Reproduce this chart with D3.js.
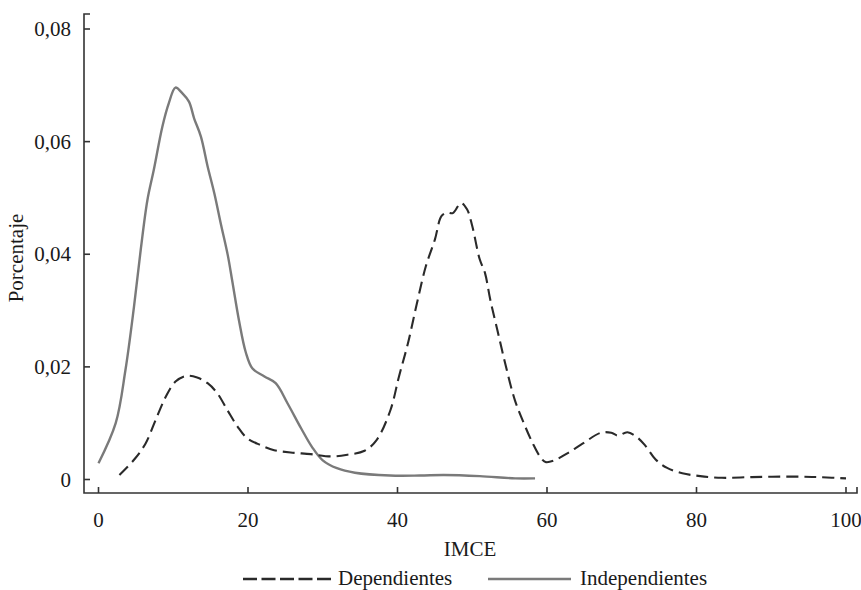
<!DOCTYPE html>
<html>
<head>
<meta charset="utf-8">
<script src="https://cdn.jsdelivr.net/npm/d3@7"></script>
<style>
  html, body { margin: 0; padding: 0; background: #fff; }
  svg { display: block; }
  text { font-family: "Liberation Serif", "Times New Roman", serif; fill: #1a1a1a; }
</style>
</head>
<body>
<svg id="chart" width="861" height="590"></svg>
<script>
// Density of IMCE scores, by group
const dependientesX = [2.8, 4.75, 6.3, 7.65, 9.0, 10.3, 11.7, 13.2, 14.6, 15.9, 17.25, 18.6, 19.9, 21.7, 23.5, 25.7, 28.4, 31.1, 33.3, 35.6, 37.2, 39.05, 40.2, 41.4, 42.6, 43.8, 45.0, 45.9, 46.7, 47.4, 48.5, 49.3, 50.0, 51.0, 51.7, 52.4, 53.35, 54.5, 55.7, 56.9, 58.1, 59.1, 59.8, 61.0, 62.65, 64.8, 67.2, 68.6, 69.5, 70.75, 71.95, 73.1, 74.5, 76.0, 78.1, 80.5, 83.4, 86.7, 90.1, 93.9, 96.7, 100];
const dependientesY = [0.0008, 0.0035, 0.0064, 0.0106, 0.0147, 0.0174, 0.0184, 0.0181, 0.0171, 0.0153, 0.0123, 0.0094, 0.0073, 0.0061, 0.0052, 0.0048, 0.0045, 0.0041, 0.0044, 0.0051, 0.0070, 0.0123, 0.0183, 0.0242, 0.0313, 0.0379, 0.0426, 0.0468, 0.0474, 0.0473, 0.0491, 0.0480, 0.0450, 0.0391, 0.0367, 0.0320, 0.0266, 0.0201, 0.0141, 0.0100, 0.0064, 0.0040, 0.0031, 0.0034, 0.0046, 0.0064, 0.0083, 0.0083, 0.0078, 0.0084, 0.0076, 0.0061, 0.0036, 0.0021, 0.0011, 0.0006, 0.0003, 0.0004, 0.0005, 0.0005, 0.0004, 0.0002];

const independientesX = [0, 2.3, 3.6, 4.75, 5.65, 6.54, 7.4, 8.55, 9.4, 10.3, 11.2, 12.1, 12.8, 13.7, 14.6, 15.5, 16.4, 17.3, 17.9, 18.8, 19.7, 20.6, 22.2, 23.7, 25.3, 27.1, 28.55, 30.0, 31.9, 34.3, 39.0, 43.0, 46.2, 51.0, 55.75, 58.4];
const independientesY = [0.0029, 0.0100, 0.0194, 0.0307, 0.0408, 0.0496, 0.0550, 0.0627, 0.0668, 0.0696, 0.0686, 0.0671, 0.0641, 0.0609, 0.0556, 0.0508, 0.0452, 0.0398, 0.0352, 0.0282, 0.0226, 0.0197, 0.0183, 0.0171, 0.0135, 0.0091, 0.0058, 0.0034, 0.0020, 0.0012, 0.0007, 0.0007, 0.0008, 0.0006, 0.0002, 0.0002];

const xTicks = [0, 20, 40, 60, 80, 100];
const yTicks = [0, 0.02, 0.04, 0.06, 0.08];
const yTickLabels = ["0", "0,02", "0,04", "0,06", "0,08"];
const seriesNames = ["Dependientes", "Independientes"];

const svg = d3.select("#chart");
const axisColor = "#333";

const x = d3.scaleLinear().domain([0, 100]).range([98.5, 846]);
const y = d3.scaleLinear().domain([0, 0.08]).range([479.5, 29]);

const axisLeftX = 84, axisTopY = 14, axisBottomY = 493, axisRightX = 857;

// Frame lines
const frame = svg.append("g").attr("stroke", axisColor).attr("stroke-width", 1.6).attr("fill", "none");
frame.append("path").attr("d", `M${axisLeftX + 6},${axisTopY}H${axisLeftX}V${axisBottomY}H${axisRightX}V${axisBottomY - 6}`);

// Y axis ticks (pointing inward) and labels
const yAxis = svg.append("g");
yAxis.selectAll("line").data(yTicks).join("line")
  .attr("x1", axisLeftX).attr("x2", axisLeftX + 6)
  .attr("y1", d => y(d)).attr("y2", d => y(d))
  .attr("stroke", axisColor).attr("stroke-width", 1.6);
yAxis.selectAll("text").data(yTicks).join("text")
  .attr("x", 71).attr("y", d => y(d) + 7)
  .attr("text-anchor", "end").attr("font-size", 21)
  .text((d, i) => yTickLabels[i]);

// X axis ticks and labels
const xAxis = svg.append("g");
xAxis.selectAll("line").data(xTicks).join("line")
  .attr("x1", d => x(d)).attr("x2", d => x(d))
  .attr("y1", axisBottomY).attr("y2", axisBottomY - 6)
  .attr("stroke", axisColor).attr("stroke-width", 1.6);
xAxis.selectAll("text").data(xTicks).join("text")
  .attr("x", d => x(d)).attr("y", 527)
  .attr("text-anchor", "middle").attr("font-size", 21)
  .text(d => d);

// Axis titles
svg.append("text").attr("x", 470).attr("y", 556)
  .attr("text-anchor", "middle").attr("font-size", 21).text("IMCE");
svg.append("text").attr("transform", "translate(23,258) rotate(-90)")
  .attr("text-anchor", "middle").attr("font-size", 21).text("Porcentaje");

// Curves
const line = d3.line()
  .x(d => x(d[0])).y(d => y(d[1]))
  .curve(d3.curveCatmullRom.alpha(0.5));

const depData = dependientesX.map((v, i) => [v, dependientesY[i]]);
const indData = independientesX.map((v, i) => [v, independientesY[i]]);

svg.append("path").datum(indData)
  .attr("d", line).attr("fill", "none")
  .attr("stroke", "#7a7a7a").attr("stroke-width", 2.4)
  .attr("stroke-linejoin", "round");

svg.append("path").datum(depData)
  .attr("d", line).attr("fill", "none")
  .attr("stroke", "#2a2a2a").attr("stroke-width", 2.1)
  .attr("stroke-dasharray", "12,6");

// Legend
const legend = svg.append("g");
legend.append("line").attr("x1", 243).attr("x2", 331).attr("y1", 579).attr("y2", 579)
  .attr("stroke", "#2a2a2a").attr("stroke-width", 2.3).attr("stroke-dasharray", "14,4.5");
legend.append("text").attr("x", 338).attr("y", 585).attr("font-size", 21).text(seriesNames[0]);
legend.append("line").attr("x1", 488).attr("x2", 571).attr("y1", 579).attr("y2", 579)
  .attr("stroke", "#7a7a7a").attr("stroke-width", 2.4);
legend.append("text").attr("x", 580).attr("y", 585).attr("font-size", 21).text(seriesNames[1]);
</script>
</body>
</html>
